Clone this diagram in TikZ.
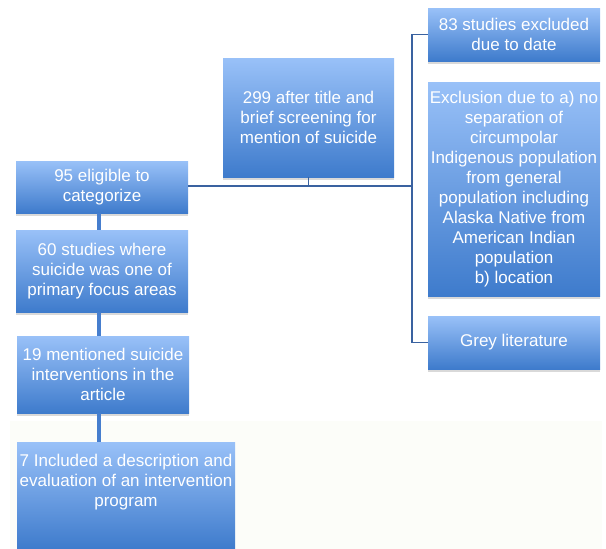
\documentclass[tikz,border=0pt]{standalone}
\usepackage{fontspec}
\setmainfont{Liberation Sans}
\usetikzlibrary{positioning,shadows}
\definecolor{boxtop}{RGB}{153,193,248}
\definecolor{boxbot}{RGB}{62,123,204}
\definecolor{linkthin}{RGB}{58,98,160}
\definecolor{linkthick}{RGB}{70,126,206}
\definecolor{paleback}{RGB}{252,253,249}

\begin{document}
\begin{tikzpicture}[x=1pt, y=-1pt,
  boxtext/.style={text=white, align=center, font=\fontsize{17}{20}\selectfont},
  box/.style={boxtext, inner sep=0pt, minimum width=172pt, top color=boxtop, bottom color=boxbot,
    drop shadow={shadow xshift=0pt, shadow yshift=-3pt, opacity=0.3}},
  thinlink/.style={draw=linkthin, line width=1.5pt},
  thicklink/.style={draw=linkthick, line width=4pt}]
\useasboundingbox (0,0) rectangle (606,549);

% Pale backdrop
\fill[paleback] (10,421) rectangle (602,549);

% Screening
\node[box, minimum width=171pt, minimum height=119pt] (screen) at (308.5,117.5)
  {299 after title and\\brief screening for\\mention of suicide};

% Exclusions
\node[box, minimum height=53pt] (date) at (514,34.5) {83 studies excluded\\due to date};
\node[box, minimum height=214pt] (exclusion) at (514,189)
  {Exclusion due to a) no\\separation of\\circumpolar\\Indigenous population\\from general\\population including\\Alaska Native from\\American Indian\\population\\b) location};
\node[box, minimum height=53pt] (grey) at (514,342.5) {Grey literature};

% Categorizing
\node[box, minimum height=52pt] (eligible) at (102,187) {95 eligible to\\categorize};
\node[box, minimum height=82pt] (primary) at (102,271)
  {60 studies where\\suicide was one of\\primary focus areas};
\node[box, minimum height=77pt] (mentioned) at (103,374.5)
  {19 mentioned suicide\\interventions in the\\article};
\node[box, minimum width=218pt, minimum height=107pt] (included) at (126,495.5) {};
\node[boxtext, below=9pt of included.north] (includedtext)
  {7 Included a description and\\evaluation of an intervention\\program};

% Connections
\coordinate (trunk) at (412,186);
\coordinate (spine) at (99,0);
\draw[thinlink] (eligible.east |- trunk) -- (trunk);
\draw[thinlink] (screen.south) -- (screen.south |- trunk);
\draw[thinlink] (date.west) -| (trunk) |- (grey.west);
\draw[thicklink] (spine |- eligible.south) -- (spine |- primary.north);
\draw[thicklink] (spine |- primary.south) -- (spine |- mentioned.north);
\draw[thicklink] (spine |- mentioned.south) -- (spine |- included.north);

\end{tikzpicture}
\end{document}
